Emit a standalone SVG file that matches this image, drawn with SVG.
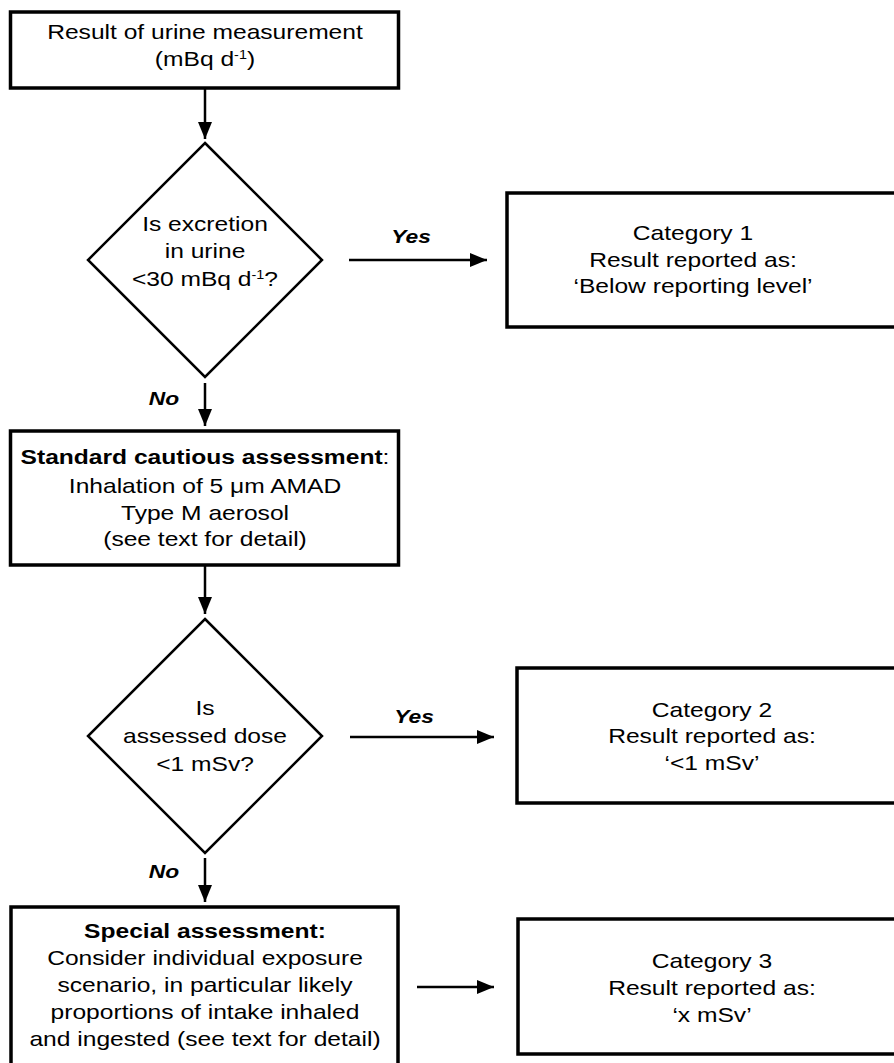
<svg xmlns="http://www.w3.org/2000/svg" width="894" height="1063" viewBox="0 0 894 1063">
<style>
.box{fill:#fff;stroke:#000;stroke-width:3.5}
.dia{fill:#fff;stroke:#000;stroke-width:2.5}
.con{stroke:#000;stroke-width:2.5;fill:none}
text{font-family:"Liberation Sans",Arial,sans-serif;font-size:20.5px;fill:#000;text-anchor:middle}
.b{font-weight:bold}
.lbl{font-weight:bold;font-style:italic;font-size:19px}
.sup{font-size:12px}
</style>
<defs>
<marker id="ah" markerUnits="userSpaceOnUse" markerWidth="18" markerHeight="14" refX="17" refY="7" orient="auto">
<path d="M0,0 L17,7 L0,14 z" fill="#000"/>
</marker>
</defs>
<rect width="894" height="1063" fill="#fff"/>
<g id="connectors">
<line class="con" x1="205" y1="89" x2="205" y2="139" marker-end="url(#ah)"/>
<line class="con" x1="349" y1="260" x2="487" y2="260" marker-end="url(#ah)"/>
<line class="con" x1="205" y1="383" x2="205" y2="426" marker-end="url(#ah)"/>
<line class="con" x1="205" y1="566" x2="205" y2="614" marker-end="url(#ah)"/>
<line class="con" x1="350" y1="737" x2="494" y2="737" marker-end="url(#ah)"/>
<line class="con" x1="205" y1="858" x2="205" y2="902" marker-end="url(#ah)"/>
<line class="con" x1="417" y1="987" x2="494" y2="987" marker-end="url(#ah)"/>
<text class="lbl" transform="matrix(1.2 0 0 1 411 243)" x="0" y="0">Yes</text>
<text class="lbl" transform="matrix(1.2 0 0 1 414 723)" x="0" y="0">Yes</text>
<text class="lbl" transform="matrix(1.2 0 0 1 164 405)" x="0" y="0">No</text>
<text class="lbl" transform="matrix(1.2 0 0 1 164 878)" x="0" y="0">No</text>
</g>
<g id="n1">
<rect class="box" x="10.5" y="12" width="388" height="76"/>
<text transform="matrix(1.2 0 0 1 205 0)"><tspan x="0" y="39">Result of urine measurement</tspan><tspan x="0" y="66">(mBq d<tspan class="sup" dy="-7">-1</tspan><tspan dy="7">)</tspan></tspan></text>
</g>
<g id="d1">
<polygon class="dia" points="205,143 322,260 205,377 88,260"/>
<text transform="matrix(1.2 0 0 1 205 0)"><tspan x="0" y="231">Is excretion</tspan><tspan x="0" y="258">in urine</tspan><tspan x="0" y="286">&lt;30 mBq d<tspan class="sup" dy="-7">-1</tspan><tspan dy="7">?</tspan></tspan></text>
</g>
<g id="c1">
<rect class="box" x="507" y="193" width="400" height="134"/>
<text transform="matrix(1.2 0 0 1 693 0)"><tspan x="0" y="240">Category 1</tspan><tspan x="0" y="267">Result reported as:</tspan><tspan x="0" y="293">‘Below reporting level’</tspan></text>
</g>
<g id="n2">
<rect class="box" x="10.5" y="431" width="388" height="134"/>
<text transform="matrix(1.2 0 0 1 205 0)"><tspan x="0" y="464"><tspan class="b">Standard cautious assessment</tspan>:</tspan><tspan x="0" y="493">Inhalation of 5 μm AMAD</tspan><tspan x="0" y="520">Type M aerosol</tspan><tspan x="0" y="546">(see text for detail)</tspan></text>
</g>
<g id="d2">
<polygon class="dia" points="205,619 322,736 205,853 88,736"/>
<text transform="matrix(1.2 0 0 1 205 0)"><tspan x="0" y="715">Is</tspan><tspan x="0" y="743">assessed dose</tspan><tspan x="0" y="771">&lt;1 mSv?</tspan></text>
</g>
<g id="c2">
<rect class="box" x="517" y="668" width="400" height="135"/>
<text transform="matrix(1.2 0 0 1 712 0)"><tspan x="0" y="717">Category 2</tspan><tspan x="0" y="743">Result reported as:</tspan><tspan x="0" y="770">‘&lt;1 mSv’</tspan></text>
</g>
<g id="n3">
<rect class="box" x="11" y="907" width="387" height="170"/>
<text transform="matrix(1.2 0 0 1 205 0)"><tspan x="0" y="938" class="b">Special assessment:</tspan><tspan x="0" y="965">Consider individual exposure</tspan><tspan x="0" y="992">scenario, in particular likely</tspan><tspan x="0" y="1019">proportions of intake inhaled</tspan><tspan x="0" y="1046">and ingested (see text for detail)</tspan></text>
</g>
<g id="c3">
<rect class="box" x="518" y="919" width="400" height="135"/>
<text transform="matrix(1.2 0 0 1 712 0)"><tspan x="0" y="968">Category 3</tspan><tspan x="0" y="995">Result reported as:</tspan><tspan x="0" y="1022">‘x mSv’</tspan></text>
</g>
</svg>
